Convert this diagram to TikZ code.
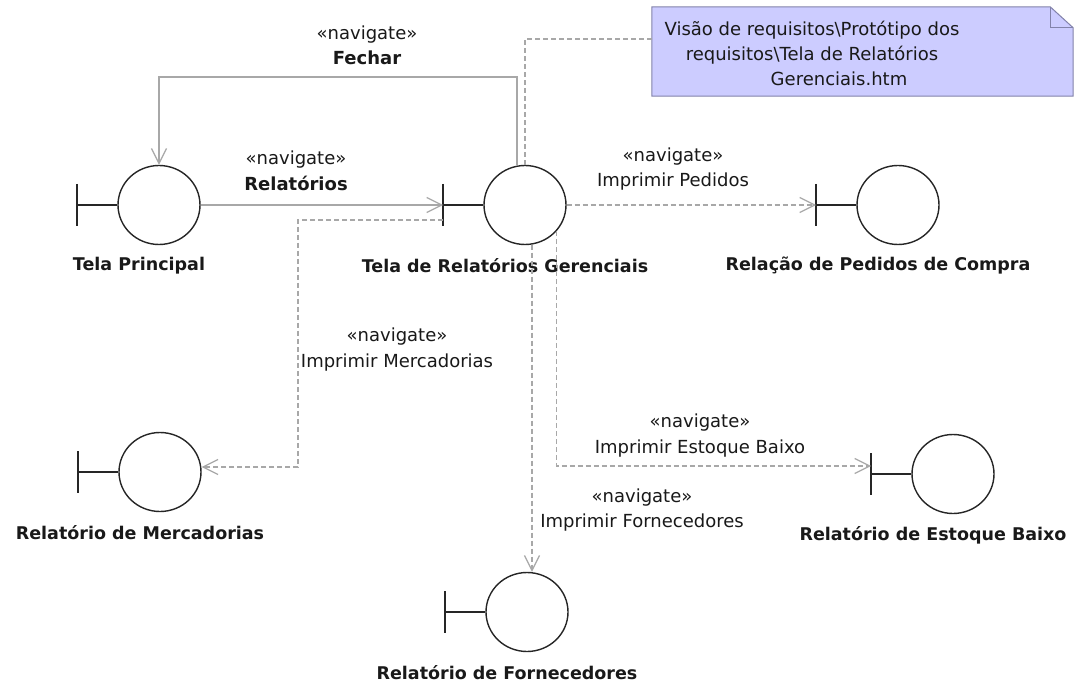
\documentclass[tikz,border=0pt]{standalone}
\usepackage{fontspec}
\setmainfont{DejaVu Sans}
\usetikzlibrary{arrows.meta,shapes.geometric}
\definecolor{linegray}{RGB}{168,168,168}
\definecolor{notefill}{RGB}{204,204,255}
\definecolor{noteborder}{RGB}{130,130,170}
\definecolor{txt}{RGB}{25,25,25}
\newcommand\bndry[3]{%
  \node[bnd] (#1) at (#2) {};
  \coordinate (#1bar) at ([xshift=-82pt]#1.center);
  \draw[barline] (#1bar) -- (#1.west);
  \draw[barline] ([yshift=21pt]#1bar) -- ([yshift=-21pt]#1bar);
  \node[blabel] (#1lab) at ([xshift=-20pt,yshift=-61pt]#1.center) {#3};
}
\begin{document}
\begin{tikzpicture}[x=1pt,y=-1pt,
  font=\fontsize{18}{25.5}\selectfont,
  every node/.style={text=txt},
  bnd/.style={ellipse,draw=black!85,line width=1.4pt,minimum width=82pt,minimum height=79pt,inner sep=0pt},
  barline/.style={draw=black!85,line width=1.4pt},
  nav/.style={draw=linegray,line width=1.2pt,-{Straight Barb[length=15pt,width=15pt]}},
  navd/.style={nav,dash pattern=on 5pt off 3pt},
  dashc/.style={draw=linegray,line width=1.2pt,dash pattern=on 5pt off 3pt},
  blabel/.style={font=\fontsize{17.5}{21}\selectfont\bfseries,inner sep=0pt},
  elabel/.style={align=center,inner sep=0pt},
  notebox/.style={minimum width=421pt,minimum height=89pt,inner sep=0pt},
]
\path[fill=white,use as bounding box] (0,0) rectangle (1078,684);

% boundaries
\bndry{TP}{159,205}{Tela Principal}
\bndry{TR}{525,205}{Tela de Relatórios Gerenciais}
\bndry{RP}{898,205}{Relação de Pedidos de Compra}
\bndry{RM}{160,472}{Relatório de Mercadorias}
\bndry{RE}{953,474}{Relatório de Estoque Baixo}
\bndry{RF}{527,612}{Relatório de Fornecedores}

% note
\node[notebox] (note) at (862.5,51.5) {};
\draw[fill=notefill,draw=noteborder,line width=1pt]
  (note.south west) -- (note.north west) -- ([xshift=-23pt]note.north east)
  -- ([yshift=-21pt]note.north east) -- (note.south east) -- cycle;
\draw[draw=noteborder,line width=1pt]
  ([xshift=-23pt]note.north east) -- ([xshift=-23pt,yshift=-21pt]note.north east)
  -- ([yshift=-21pt]note.north east);
\node[elabel,font=\fontsize{18}{25}\selectfont] (notetext) at (812,53)
  {Visão de requisitos\textbackslash Protótipo dos\\
   requisitos\textbackslash Tela de Relatórios\\
   \hspace*{54pt}Gerenciais.htm};

% connectors
\coordinate (fa) at ([xshift=-8pt]TR.north);
\draw[nav] (fa) -- (fa |- 0,77) -| (TP.north);
\draw[nav] (TP.east) -- (TRbar);
\draw[navd] (TR.east) -- (RPbar);
\coordinate (mc) at (298,220);
\draw[navd] ([yshift=-15pt]TRbar) -- (mc) |- ([yshift=5pt]RM.east);
\draw[dashc] (TR.north) |- ([yshift=12.5pt]note.west);
\draw[navd] (TR.-40) |- ([yshift=8pt]REbar);
\draw[navd] (TR.-80) -- (TR.-80 |- RF.north);

% connector labels
\node[elabel] (lfe) at (367,45.5) {«navigate»\\\textbf{Fechar}};
\node[elabel] (lre) at (296,171) {«navigate»\\\textbf{Relatórios}};
\node[elabel] (lpe) at (673,169) {«navigate»\\Imprimir Pedidos};
\node[elabel] (lme) at (397,349.5) {«navigate»\\Imprimir Mercadorias};
\node[elabel] (les) at (700,435.5) {«navigate»\\Imprimir Estoque Baixo};
\node[elabel] (lfo) at (642,510) {«navigate»\\Imprimir Fornecedores};
\end{tikzpicture}
\end{document}
